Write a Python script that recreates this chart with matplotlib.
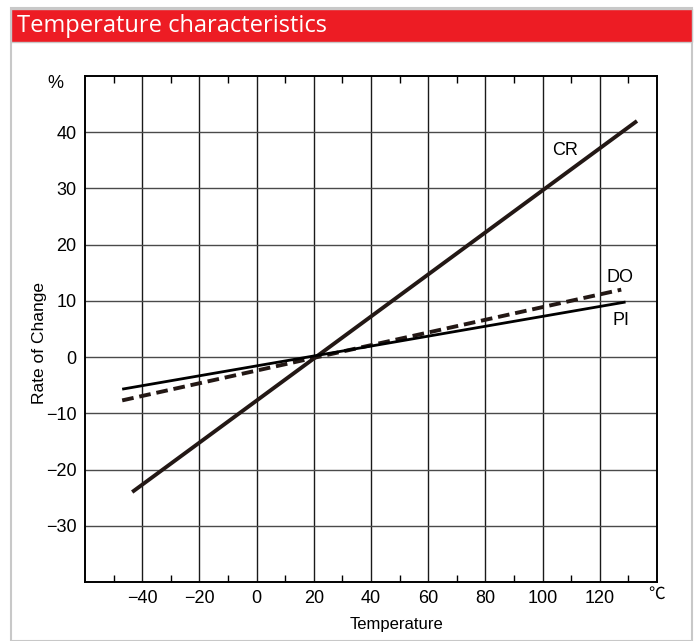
import matplotlib.pyplot as plt
from matplotlib.patches import Rectangle

# line endpoints (temperature degC, rate of change %)
cr_x = [-43.5, 133]
cr_y = [-24, 42]
do_x = [-47, 127.5]
do_y = [-7.7, 12.0]
pi_x = [-47, 129]
pi_y = [-5.7, 9.8]

x_ticks = [-40, -20, 0, 20, 40, 60, 80, 100, 120]
y_ticks = [-30, -20, -10, 0, 10, 20, 30, 40]

plt.rcParams['font.family'] = ['Liberation Sans', 'DejaVu Sans']

fig = plt.figure(figsize=(6.97, 6.41), dpi=100)

# outer frame and red header
W, H = 697, 641
def fx(px): return px / W
def fy(py): return 1 - py / H

fig.patches.append(Rectangle((fx(11), 0), fx(692) - fx(11), fy(8), transform=fig.transFigure,
                             facecolor='white', edgecolor='#c8c8c8', lw=1.5, zorder=-2))
fig.patches.append(Rectangle((fx(11), fy(42)), fx(692) - fx(11), fy(9) - fy(42), transform=fig.transFigure,
                             facecolor='#ed1c24', edgecolor='#c8c8c8', lw=1, zorder=-1))
fig.text(fx(17), fy(26), 'Temperature characteristics', color='white', fontsize=17,
         family=['Open Sans', 'DejaVu Sans'], va='center', ha='left')

ax = fig.add_axes([fx(85), fy(582), fx(657) - fx(85), fy(76) - fy(582)])
ax.set_facecolor('none')
ax.set_xlim(-60, 140)
ax.set_ylim(-40, 50)

ink = '#231815'
ax.plot(cr_x, cr_y, color=ink, lw=2.8, solid_capstyle='butt')
ax.plot(do_x, do_y, color=ink, lw=2.8, ls=(0, (3.0, 1.5)), dash_capstyle='butt')
ax.plot(pi_x, pi_y, color='black', lw=2.0, solid_capstyle='butt')

for v in x_ticks:
    ax.axvline(v, color='#1a1a1a', lw=1.0, zorder=0)
for v in y_ticks:
    ax.axhline(v, color='#4a4a4a', lw=1.0, zorder=0)

ax.set_xticks(x_ticks)
ax.set_xticklabels([str(v).replace('-', '\u2212') for v in x_ticks], fontsize=13)
ax.set_yticks(y_ticks)
ax.set_yticklabels([str(v).replace('-', '\u2212') for v in y_ticks], fontsize=13)
ax.tick_params(axis='both', length=0, pad=6)

# small inward ticks at odd tens on top and bottom
minor = list(range(-50, 140, 20))
ax.set_xticks(minor, minor=True)
ax.tick_params(axis='x', which='minor', direction='in', length=5, width=1.0, top=True, labelbottom=False)

for s in ax.spines.values():
    s.set_linewidth(1.4)
    s.set_color('black')

ax.text(108, 36.8, 'CR', fontsize=13, ha='center', va='center')
ax.text(127, 14.1, 'DO', fontsize=13, ha='center', va='center')
ax.text(127.5, 6.6, 'PI', fontsize=13, ha='center', va='center')

ax.text(-70.5, 48.6, '%', fontsize=13, ha='center', va='center', clip_on=False)
ax.text(140, -42.2, '\u2103', fontsize=12, ha='center', va='center', clip_on=False,
        family=['Noto Sans CJK JP', 'DejaVu Sans'])

ax.set_xlabel('Temperature', fontsize=12)
ax.xaxis.set_label_coords(0.544, -0.070)
ax.set_ylabel('Rate of Change', fontsize=12.5)
ax.yaxis.set_label_coords(-0.066, 0.472)

fig.savefig('out.png', dpi=100)
